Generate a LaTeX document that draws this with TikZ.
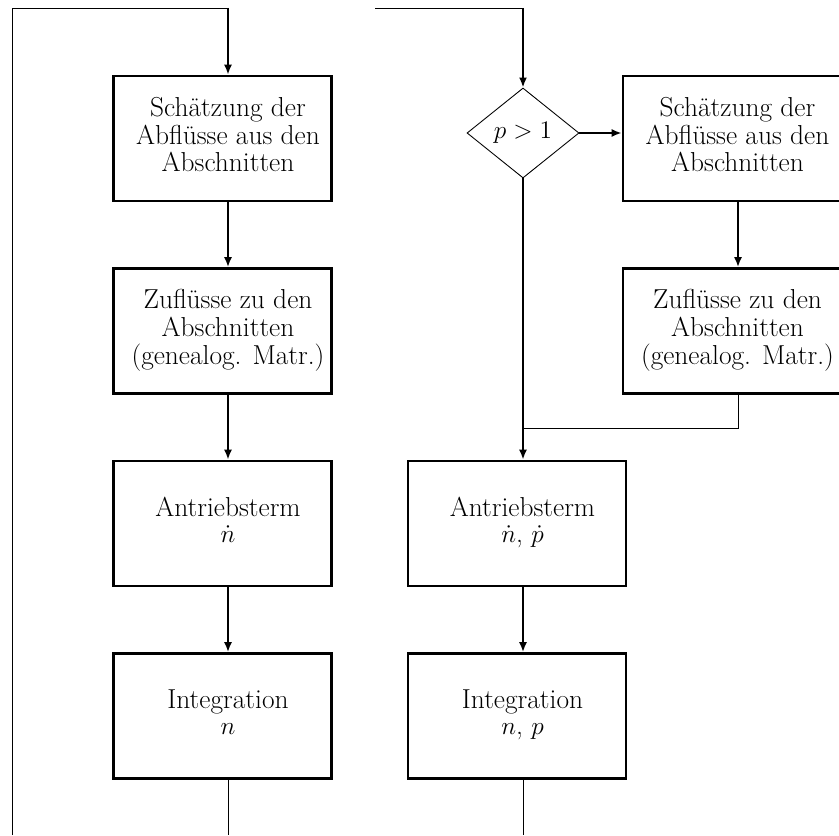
\documentclass[tikz,border=0pt]{standalone}
\newcommand{\flowfont}{\fontsize{15.6}{14.9}\selectfont}
\newcommand{\stagetext}[1]{\hspace*{2.2mm}\begin{tabular}{@{}c@{}}#1\end{tabular}}
\usetikzlibrary{arrows.meta,calc,positioning,shapes.geometric}
\tikzset{
  stagebox/.style={draw=black,rectangle,line width=1.5pt,minimum width=43.6mm,
    minimum height=25mm,inner sep=0pt,font=\flowfont},
  testdiamond/.style={draw=black,diamond,aspect=1.25,line width=0.5pt,
    minimum width=22.4mm,minimum height=18mm,inner sep=0pt,font=\flowfont},
  flowarrow/.style={draw=black,line width=1.2pt,-{Latex[length=2mm,width=1.6mm]}},
  flowline/.style={draw=black,line width=0.5pt},
}

\begin{document}
\begin{tikzpicture}[x=1cm,y=1cm]
        \useasboundingbox (0,0) rectangle (16.78,16.70);
        \clip (0,0) rectangle (16.78,16.70);
        % left column
        \node[stagebox] (lschaetz) at (4.45,13.93) {\stagetext{Schätzung der\\Abflüsse aus den\\Abschnitten}};
        \node[stagebox] (lzufl) at (4.45,10.08) {\stagetext{Zuflüsse zu den\\Abschnitten\\(genealog. Matr.)}};
        \node[stagebox] (lantr) at (4.45,6.23) {\stagetext{Antriebsterm\\$\dot n$}};
        \node[stagebox] (linteg) at (4.45,2.38) {\stagetext{Integration\\$n$}};
        % right column
        \node[testdiamond] (test) at (10.46,14.04) {$p>1$};
        \node[stagebox] (rschaetz) at (14.64,13.93) {\stagetext{Schätzung der\\Abflüsse aus den\\Abschnitten}};
        \node[stagebox] (rzufl) at (14.64,10.08) {\stagetext{Zuflüsse zu den\\Abschnitten\\(genealog. Matr.)}};
        \node[stagebox] (mantr) at (10.34,6.23) {\stagetext{Antriebsterm\\$\dot n$, $\dot p$}};
        \node[stagebox] (minteg) at (10.34,2.38) {\stagetext{Integration\\$n$, $p$}};
        \coordinate (lloop) at (0.24,0);
        \coordinate (lcorner) at (0.24,16.54);
        \coordinate (lcol) at (4.56,16.54);
        \coordinate (lout) at (4.56,0);
        \coordinate (mloop) at (7.50,16.54);
        \coordinate (mcol) at (10.46,16.54);
        \coordinate (mjoin) at (10.46,8.14);
        \coordinate (mout) at (10.46,0);
        \coordinate (rcol) at (14.76,0);
        % connectors left
        \draw[flowline] (lloop) -- (lcorner) -- (lcol);
        \draw[flowarrow] (lcol) -- (lcol |- lschaetz.north);
        \draw[flowarrow] (lcol |- lschaetz.south) -- (lcol |- lzufl.north);
        \draw[flowarrow] (lcol |- lzufl.south) -- (lcol |- lantr.north);
        \draw[flowarrow] (lcol |- lantr.south) -- (lcol |- linteg.north);
        \draw[flowline] (lcol |- linteg.south) -- (lout);
        % connectors right
        \draw[flowline] (mloop) -- (mcol);
        \draw[flowarrow] (mcol) -- (test.north);
        \draw[flowarrow,line width=1.5pt] (test.east) -- (test.east -| rschaetz.west);
        \draw[flowarrow,line width=1.4pt] (rcol |- rschaetz.south) -- (rcol |- rzufl.north);
        \draw[flowline] (rcol |- rzufl.south) |- (mjoin);
        \draw[flowarrow,line width=1.4pt] (test.south) -- (mcol |- mantr.north);
        \draw[flowarrow] (mcol |- mantr.south) -- (mcol |- minteg.north);
        \draw[flowline] (mcol |- minteg.south) -- (mout);
\end{tikzpicture}
\end{document}
